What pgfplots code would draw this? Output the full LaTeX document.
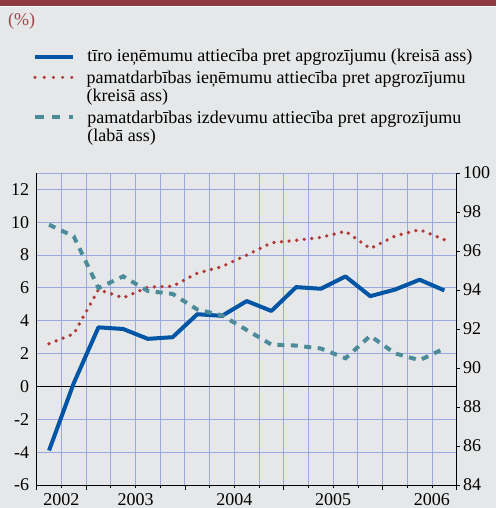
\documentclass[border=0pt]{standalone}
\usepackage{fontspec}
\setmainfont{Liberation Serif}
\usepackage{pgfplots}
\pgfplotsset{compat=1.18}
\definecolor{bg}{HTML}{E6E7E8}
\definecolor{barred}{HTML}{8E3A3F}
\definecolor{pcred}{HTML}{A0464B}
\definecolor{lblue}{HTML}{0056A4}
\definecolor{ldot}{HTML}{B33838}
\definecolor{lteal}{HTML}{4C8C9A}
\definecolor{gridc}{HTML}{99A9DE}
\pgfplotsset{
  frame/.style={at={(36.7pt,23pt)}, anchor=south west,
    scale only axis, width=420pt, height=312pt, xmin=-0.5, xmax=16.5},
  leg/.style={legend style={at={(axis description cs:-0.008,#1)}, anchor=north west,
    draw=none, fill=none, inner sep=0pt, outer sep=0pt,
    font=\fontsize{18}{17.5}\selectfont,
    cells={anchor=base west}, row sep=0pt,
    /tikz/every odd column/.append style={column sep=10pt}},
    legend image code/.code={\draw[##1] (0pt,0pt) -- (38pt,0pt);}},
}
\begin{document}
\begin{tikzpicture}[x=1pt,y=1pt]
\fill[bg] (0,0) rectangle (496,508);
\fill[barred] (0,502) rectangle (496,508);
\fill[white] (0,500.5) rectangle (496,502);
\node[anchor=base west, text=pcred, font=\fontsize{18}{18}\selectfont, inner sep=0] at (8,482) {(\%)};
\begin{axis}[frame, leg=1.405,
  ymin=-6, ymax=13,
  axis x line*=bottom, axis y line*=left,
  axis line style={black, line width=0.8pt},
  /pgf/number format/assume math mode=true,
  tick label style={font=\fontsize{18}{18}\selectfont},
  xtick={0.5,3.5,7.5,11.5,15.5},
  xticklabels={2002,2003,2004,2005,2006},
  xticklabel style={yshift=-5pt},
  minor xtick={0.5,1.5,...,15.5},
  xminorgrids, xmajorgrids=false,
  ytick={-6,-4,...,12}, ymajorgrids,
  grid style={gridc, line width=0.9pt},
  minor grid style={gridc, line width=0.9pt},
  tick align=outside,
  major tick length=0pt, minor tick length=3pt,
  tick style={black, line width=0.7pt},
  extra x ticks={-0.5,1.5,5.5,9.5,13.5,16.5},
  extra x tick labels={},
  extra x tick style={grid=none, major tick length=5pt},
  extra y ticks={13}, extra y tick labels={},
  extra y tick style={grid=major},
  yticklabel style={xshift=-4pt},
  clip=false,
]
\addplot[black, line width=1pt, forget plot] coordinates {(-0.5,0) (16.5,0)};
\addplot[ldot, line width=3.7pt, line cap=round, dash pattern=on 0pt off 7.6pt, forget plot] coordinates {
(0,2.6) (1,3.2) (2,5.9) (3,5.4) (4,6.05) (5,6.1) (6,6.9) (7,7.3) (8,8.0)
(9,8.75) (10,8.9) (11,9.08) (12,9.45) (13,8.4) (14,9.16) (15,9.55) (16,8.94)};
\addplot[lblue, line width=4pt, line join=round, forget plot] coordinates {
(0,-3.9) (1,0.2) (2,3.6) (3,3.5) (4,2.9) (5,3.0) (6,4.4) (7,4.3) (8,5.2)
(9,4.6) (10,6.05) (11,5.95) (12,6.7) (13,5.5) (14,5.9) (15,6.5) (16,5.85)};
\addlegendimage{lblue, line width=4pt, yshift=4.5pt}
\addlegendentry{tīro ieņēmumu attiecība pret apgrozījumu (kreisā ass)}
\end{axis}
\begin{axis}[frame, leg=1.332,
  ymin=84, ymax=100,
  axis x line=none, axis y line*=right,
  axis line style={black, line width=0.8pt},
  /pgf/number format/assume math mode=true,
  tick label style={font=\fontsize{18}{18}\selectfont},
  ytick={84,86,...,100},
  tick align=outside, major tick length=3pt,
  tick style={black, line width=0.7pt},
]
\addplot[lteal, line width=4pt, dash pattern=on 7pt off 6.5pt, forget plot] coordinates {
(0,97.35) (1,96.75) (2,94.1) (3,94.7) (4,93.95) (5,93.8) (6,93.0) (7,92.7) (8,91.95)
(9,91.2) (10,91.15) (11,91.0) (12,90.5) (13,91.65) (14,90.75) (15,90.4) (16,91.0)};
\addlegendimage{ldot, line width=3.4pt, line cap=round, dash pattern=on 0pt off 9.2pt, yshift=6.5pt}
\addlegendentry{pamatdarbības ieņēmumu attiecība pret apgrozījumu}
\addlegendimage{empty legend}
\addlegendentry{(kreisā ass)}
\end{axis}
\begin{axis}[frame, leg=1.2066, ymin=0, ymax=1, hide axis]
\addlegendimage{lteal, line width=4pt, dash pattern=on 8.3pt off 8.3pt, yshift=6.5pt}
\addlegendentry{pamatdarbības izdevumu attiecība pret apgrozījumu}
\addlegendimage{empty legend}
\addlegendentry{(labā ass)}
\end{axis}
\pgfresetboundingbox
\useasboundingbox (0,0) rectangle (496,508);
\end{tikzpicture}
\end{document}
